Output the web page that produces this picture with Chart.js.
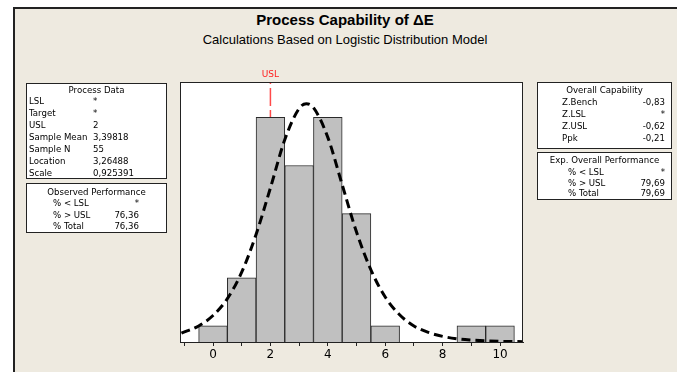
<!DOCTYPE html>
<html>
<head>
<meta charset="utf-8">
<script src="https://cdn.jsdelivr.net/npm/chart.js@4.4.0/dist/chart.umd.min.js"></script>
<style>
  body { margin: 0; background: #fff; width: 677px; height: 372px; overflow: hidden; position: relative; }
  #frame { position: absolute; left: 13px; top: 7px; width: 664px; height: 365px; background: #EEEAE0;
           border-left: 2px solid #222; border-top: 2px solid #222; box-sizing: border-box; }
  #chart { position: absolute; left: 0; top: 0; }
  .title { position: absolute; left: 13px; width: 664px; text-align: center; font-family: "Liberation Sans", Arial, sans-serif; color: #000; }
  .box { position: absolute; background: #fff; border: 1.5px solid #222; box-sizing: border-box; }
  .t { position: absolute; font-family: "DejaVu Sans", Verdana, sans-serif; font-size: 8.6px; line-height: 12px; color: #000; white-space: nowrap; }
</style>
</head>
<body>
<div id="frame"></div>
<div class="title" style="top:11px;font-size:15px;font-weight:bold">Process Capability of ΔE</div>
<div class="title" style="top:32px;font-size:13px">Calculations Based on Logistic Distribution Model</div>
<canvas id="chart" width="677" height="372"></canvas>
<div id="boxes"></div>
<script>
// histogram bins (bin centers) and counts
const binCenters = [0, 1, 2, 3, 4, 5, 6, 7, 8, 9, 10]
const counts = [1, 4, 14, 11, 14, 8, 1, 0, 0, 1, 1]

// fitted logistic curve
const curveX = [-1.1, -0.5, 0, 0.5, 1, 1.5, 2, 2.5, 3, 3.25, 3.5, 4, 4.5, 5, 5.5, 6, 6.5, 7, 7.5, 8, 8.5, 9, 9.5, 10, 10.8]
const curveY = [0.55, 1.0, 1.65, 2.7, 4.35, 6.7, 9.6, 12.6, 14.55, 14.85, 14.6, 12.75, 9.8, 6.85, 4.5, 2.8, 1.7, 1.0, 0.6, 0.35, 0.2, 0.12, 0.07, 0.04, 0.02]

const usl = 2

// text tables
const processLabels = ['LSL', 'Target', 'USL', 'Sample Mean', 'Sample N', 'Location', 'Scale']
const processValues = ['*', '*', '2', '3,39818', '55', '3,26488', '0,925391']
const observedLabels = ['% < LSL', '% > USL', '% Total']
const observedValues = ['*', '76,36', '76,36']
const overallLabels = ['Z.Bench', 'Z.LSL', 'Z.USL', 'Ppk']
const overallValues = ['-0,83', '*', '-0,62', '-0,21']
const expLabels = ['% < LSL', '% > USL', '% Total']
const expValues = ['*', '79,69', '79,69']

// ============ STAT BOXES ============
const boxes = document.getElementById('boxes')

function addBox(left, top, width, height) {
    const d = document.createElement('div')
    d.className = 'box'
    d.style.cssText = `left:${left}px;top:${top}px;width:${width}px;height:${height}px`
    boxes.appendChild(d)
}

function addText(text, x, yc, align) {
    const s = document.createElement('div')
    s.className = 't'
    s.textContent = text
    s.style.top = (yc - 6) + 'px'
    if (align === 'right') {
        s.style.right = (677 - x) + 'px'
    } else if (align === 'center') {
        s.style.left = (x - 100) + 'px'
        s.style.width = '200px'
        s.style.textAlign = 'center'
    } else {
        s.style.left = x + 'px'
    }
    boxes.appendChild(s)
}

function table(title, labels, values, box, titleY, rowY, step, labelX, valueX, valueAlign) {
    addBox(...box)
    addText(title, box[0] + box[2] / 2, titleY, 'center')
    for (let i = 0; i < labels.length; i++) {
        addText(labels[i], labelX, rowY + i * step)
        addText(values[i], valueX, rowY + i * step, valueAlign)
    }
}

table('Process Data', processLabels, processValues, [26, 83, 141, 96], 90, 101, 12, 29, 93, 'left')
table('Observed Performance', observedLabels, observedValues, [26, 183, 141, 50], 192, 203, 11.5, 53, 139, 'right')
table('Overall Capability', overallLabels, overallValues, [537, 82, 135, 67], 90, 102, 12, 562, 665, 'right')
table('Exp. Overall Performance', expLabels, expValues, [537, 152, 135, 48], 160, 172, 10.7, 568, 665, 'right')

// ============ CHART ============
const plotDecor = {
    id: 'plotDecor',
    beforeDatasetsDraw(chart) {
        const { ctx, chartArea: a, scales } = chart
        ctx.save()
        ctx.fillStyle = '#fff'
        ctx.fillRect(a.left, a.top, a.right - a.left, a.bottom - a.top)
        const x = scales.x.getPixelForValue(usl)
        ctx.strokeStyle = '#FF4A4A'
        ctx.lineWidth = 1.5
        ctx.setLineDash([18, 4])
        ctx.lineDashOffset = -6
        ctx.beginPath()
        ctx.moveTo(x, a.top)
        ctx.lineTo(x, a.bottom)
        ctx.stroke()
        ctx.setLineDash([])
        ctx.fillStyle = '#FF2020'
        ctx.font = '9px "DejaVu Sans"'
        ctx.textAlign = 'center'
        ctx.textBaseline = 'middle'
        ctx.fillText('USL', x, a.top - 7)
        ctx.restore()
    },
    afterDraw(chart) {
        const { ctx, chartArea: a } = chart
        ctx.save()
        ctx.strokeStyle = '#222'
        ctx.lineWidth = 1
        ctx.strokeRect(a.left + 0.5, a.top + 0.5, a.right - a.left - 1, a.bottom - a.top)
        ctx.restore()
    }
}

const chart = new Chart(document.getElementById('chart'), {
    type: 'bar',
    data: {
        datasets: [
            {
                type: 'line',
                data: curveX.map((x, i) => ({ x: x, y: curveY[i] })),
                borderColor: '#000',
                borderWidth: 3,
                borderDash: [9, 5],
                pointRadius: 0,
                cubicInterpolationMode: 'monotone',
                fill: false,
                order: 0
            },
            {
                data: binCenters.map((x, i) => ({ x: x, y: counts[i] })),
                backgroundColor: '#C0C0C0',
                borderColor: '#2a2a2a',
                borderWidth: 1,
                barPercentage: 1,
                categoryPercentage: 1,
                order: 1
            }
        ]
    },
    options: {
        responsive: false,
        animation: false,
        layout: { padding: { left: 180, right: 154, top: 82, bottom: 0 } },
        plugins: { legend: { display: false }, tooltip: { enabled: false } },
        scales: {
            x: {
                type: 'linear',
                offset: false,
                min: -1.15,
                max: 10.8,
                afterFit: (s) => { s.height = 30 },
                border: { display: true, color: '#222', width: 1 },
                grid: { offset: false, drawOnChartArea: false, drawTicks: true, tickLength: 4, color: '#222' },
                ticks: {
                    stepSize: 1,
                    includeBounds: false,
                    autoSkip: false,
                    maxRotation: 0,
                    color: '#000',
                    padding: 2,
                    font: { family: 'DejaVu Sans', size: 12 },
                    callback: (v) => (v % 2 === 0 ? v : '')
                }
            },
            y: { display: false, min: 0, max: 16.2 }
        }
    },
    plugins: [plotDecor]
})
</script>
</body>
</html>
